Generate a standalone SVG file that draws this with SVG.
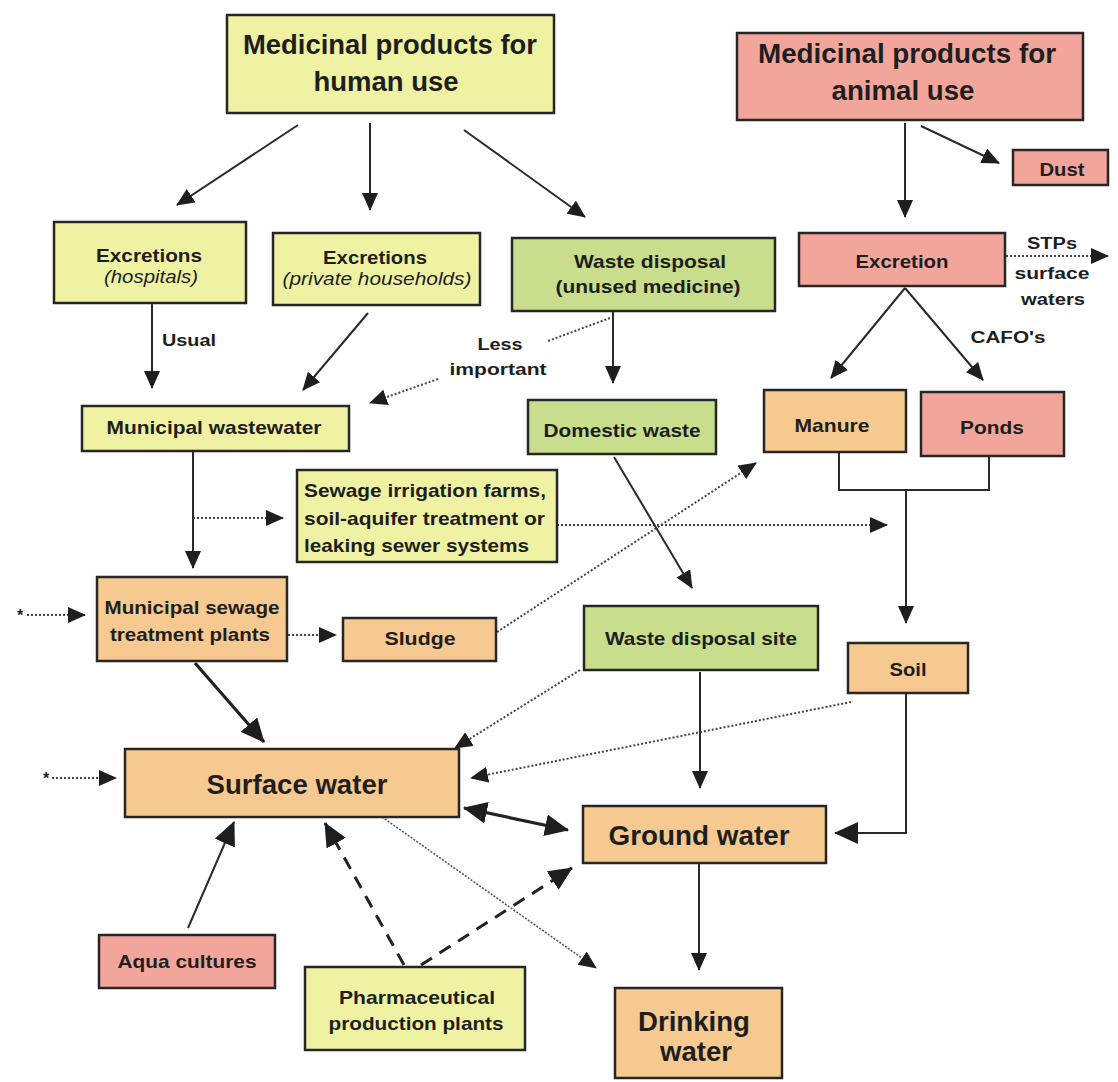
<svg xmlns="http://www.w3.org/2000/svg" width="1118" height="1082" viewBox="0 0 1118 1082">
<style>
text{font-family:"Liberation Sans",Arial,sans-serif;font-weight:bold;fill:#1e1e1e;text-anchor:middle}
.it{font-style:italic;font-weight:normal}
.big{font-size:27px}
.md{font-size:19px}
.sm{font-size:16px}
.nd rect{stroke:#262626;stroke-width:2.5}
.y{fill:#eef2a2}
.g{fill:#c8de8d}
.p{fill:#f2a59b}
.o{fill:#f5c98f}
.ln{fill:none;stroke:#2a2a2a;stroke-width:2}
.th{fill:none;stroke:#222;stroke-width:3.2}
.dt{fill:none;stroke:#444;stroke-width:2;stroke-dasharray:2 2}
.dt2{fill:none;stroke:#555;stroke-width:1.6;stroke-dasharray:2 1.5}
.ds{fill:none;stroke:#222;stroke-width:3;stroke-dasharray:13 9}
</style>
<defs>
<marker id="a" viewBox="0 0 18 16" refX="17" refY="8" markerWidth="18" markerHeight="16" orient="auto" markerUnits="userSpaceOnUse"><path d="M0,0 L18,8 L0,16 z" fill="#1e1e1e"/></marker>
<marker id="b" viewBox="0 0 24 22" refX="23" refY="11" markerWidth="24" markerHeight="22" orient="auto-start-reverse" markerUnits="userSpaceOnUse"><path d="M0,0 L24,11 L0,22 z" fill="#1e1e1e"/></marker>
</defs>
<rect x="0" y="0" width="1118" height="1082" fill="#fff"/>

<g id="connectors">
<path class="ln" d="M298,125 L177,205" marker-end="url(#a)"/>
<path class="ln" d="M370,123 L370,210" marker-end="url(#a)"/>
<path class="ln" d="M464,130 L585,217" marker-end="url(#a)"/>
<path class="ln" d="M905,123 L905,217" marker-end="url(#a)"/>
<path class="ln" d="M921,126 L999,163" marker-end="url(#a)"/>
<path class="dt" d="M1006,256 L1108,256" marker-end="url(#a)"/>
<path class="ln" d="M905,288 L831,378" marker-end="url(#a)"/>
<path class="ln" d="M905,288 L983,380" marker-end="url(#a)"/>
<path class="ln" d="M152,303 L152,388" marker-end="url(#a)"/>
<path class="ln" d="M368,313 L303,390" marker-end="url(#a)"/>
<path class="dt" d="M610,318 L548,341"/>
<path class="dt" d="M438,379 L370,403" marker-end="url(#a)"/>
<path class="ln" d="M613,312 L613,383" marker-end="url(#a)"/>
<path class="ln" d="M193,452 L193,568" marker-end="url(#a)"/>
<path class="dt" d="M193,518 L283,518" marker-end="url(#a)"/>
<path class="dt" d="M557,525 L887,525" marker-end="url(#a)"/>
<path class="ln" d="M839,452 V490 H989 V456"/>
<path class="ln" d="M906,490 V623" marker-end="url(#a)"/>
<path class="ln" d="M614,457 L692,588" marker-end="url(#a)"/>
<path class="dt" d="M497,632 L756,463" marker-end="url(#a)"/>
<path class="dt" d="M27,615 L85,615" marker-end="url(#a)"/>
<path class="dt" d="M288,635 L336,635" marker-end="url(#a)"/>
<path class="th" d="M195,663 L264,742" marker-end="url(#b)"/>
<path class="dt" d="M580,670 L455,748" marker-end="url(#a)"/>
<path class="ln" d="M700,672 L700,788" marker-end="url(#a)"/>
<path class="dt" d="M851,702 L471,778" marker-end="url(#a)"/>
<path class="ln" d="M906,693 V833 H835" marker-end="url(#b)"/>
<path class="dt" d="M52,778 L116,778" marker-end="url(#a)"/>
<path class="th" d="M464,808 L568,830" marker-start="url(#b)" marker-end="url(#b)"/>
<path class="dt2" d="M382,817 L596,968" marker-end="url(#a)"/>
<path class="ln" d="M188,928 L234,822" marker-end="url(#b)"/>
<path class="ds" d="M404,965 L325,823" marker-end="url(#b)"/>
<path class="ds" d="M421,965 L572,868" marker-end="url(#b)"/>
<path class="ln" d="M699,863 L699,970" marker-end="url(#a)"/>
<text class="sm" x="20" y="621">*</text>
<text class="sm" x="46" y="784">*</text>
<text class="sm" x="189" y="346" textLength="54" lengthAdjust="spacingAndGlyphs">Usual</text>
<text class="sm" x="500" y="350" textLength="45" lengthAdjust="spacingAndGlyphs">Less</text>
<text class="sm" x="498" y="375" textLength="97" lengthAdjust="spacingAndGlyphs">important</text>
<text class="sm" x="1052" y="249" textLength="50" lengthAdjust="spacingAndGlyphs">STPs</text>
<text class="sm" x="1052" y="279" textLength="75" lengthAdjust="spacingAndGlyphs">surface</text>
<text class="sm" x="1053" y="305" textLength="64" lengthAdjust="spacingAndGlyphs">waters</text>
<text class="sm" x="1008" y="343" textLength="75" lengthAdjust="spacingAndGlyphs">CAFO's</text>
</g>

<g id="human" class="nd"><rect class="y" x="227" y="15" width="327" height="98"/>
<text class="big" x="390" y="54" textLength="294" lengthAdjust="spacingAndGlyphs">Medicinal products for</text>
<text class="big" x="386" y="91" textLength="145" lengthAdjust="spacingAndGlyphs">human use</text></g>

<g id="animal" class="nd"><rect class="p" x="737" y="33" width="346" height="87"/>
<text class="big" x="907" y="63" textLength="298" lengthAdjust="spacingAndGlyphs">Medicinal products for</text>
<text class="big" x="903" y="100" textLength="143" lengthAdjust="spacingAndGlyphs">animal use</text></g>

<g id="dust" class="nd"><rect class="p" x="1013" y="150" width="95" height="35"/>
<text class="md" x="1062" y="176" textLength="45" lengthAdjust="spacingAndGlyphs">Dust</text></g>

<g id="excr-hosp" class="nd"><rect class="y" x="54" y="222" width="192" height="81"/>
<text class="md" x="149" y="262" textLength="106" lengthAdjust="spacingAndGlyphs">Excretions</text>
<text class="md it" x="151" y="283" textLength="94" lengthAdjust="spacingAndGlyphs">(hospitals)</text></g>

<g id="excr-priv" class="nd"><rect class="y" x="273" y="233" width="207" height="72"/>
<text class="md" x="375" y="264" textLength="104" lengthAdjust="spacingAndGlyphs">Excretions</text>
<text class="md it" x="377" y="285" textLength="189" lengthAdjust="spacingAndGlyphs">(private households)</text></g>

<g id="waste-disposal" class="nd"><rect class="g" x="512" y="238" width="263" height="73"/>
<text class="md" x="650" y="268" textLength="152" lengthAdjust="spacingAndGlyphs">Waste disposal</text>
<text class="md" x="648" y="293" textLength="185" lengthAdjust="spacingAndGlyphs">(unused medicine)</text></g>

<g id="excretion" class="nd"><rect class="p" x="799" y="233" width="206" height="53"/>
<text class="md" x="902" y="268" textLength="93" lengthAdjust="spacingAndGlyphs">Excretion</text></g>

<g id="municipal-ww" class="nd"><rect class="y" x="82" y="406" width="267" height="45"/>
<text class="md" x="214" y="434" textLength="215" lengthAdjust="spacingAndGlyphs">Municipal wastewater</text></g>

<g id="domestic" class="nd"><rect class="g" x="528" y="400" width="188" height="54"/>
<text class="md" x="622" y="437" textLength="157" lengthAdjust="spacingAndGlyphs">Domestic waste</text></g>

<g id="manure" class="nd"><rect class="o" x="764" y="390" width="142" height="62"/>
<text class="md" x="832" y="432" textLength="75" lengthAdjust="spacingAndGlyphs">Manure</text></g>

<g id="ponds" class="nd"><rect class="p" x="921" y="392" width="143" height="64"/>
<text class="md" x="992" y="434" textLength="64" lengthAdjust="spacingAndGlyphs">Ponds</text></g>

<g id="sewage-irrigation" class="nd"><rect class="y" x="297" y="470" width="260" height="92"/>
<text class="md" x="304" y="497" style="text-anchor:start" textLength="242" lengthAdjust="spacingAndGlyphs">Sewage irrigation farms,</text>
<text class="md" x="304" y="525" style="text-anchor:start" textLength="241" lengthAdjust="spacingAndGlyphs">soil-aquifer treatment or</text>
<text class="md" x="304" y="552" style="text-anchor:start" textLength="225" lengthAdjust="spacingAndGlyphs">leaking sewer systems</text></g>

<g id="mstp" class="nd"><rect class="o" x="97" y="577" width="190" height="84"/>
<text class="md" x="192" y="614" textLength="175" lengthAdjust="spacingAndGlyphs">Municipal sewage</text>
<text class="md" x="190" y="641" textLength="160" lengthAdjust="spacingAndGlyphs">treatment plants</text></g>

<g id="sludge" class="nd"><rect class="o" x="343" y="618" width="153" height="43"/>
<text class="md" x="420" y="645" textLength="71" lengthAdjust="spacingAndGlyphs">Sludge</text></g>

<g id="waste-site" class="nd"><rect class="g" x="584" y="606" width="234" height="64"/>
<text class="md" x="701" y="645" textLength="192" lengthAdjust="spacingAndGlyphs">Waste disposal site</text></g>

<g id="soil" class="nd"><rect class="o" x="848" y="643" width="120" height="50"/>
<text class="md" x="908" y="676" textLength="37" lengthAdjust="spacingAndGlyphs">Soil</text></g>

<g id="surface" class="nd"><rect class="o" x="125" y="749" width="334" height="68"/>
<text class="big" x="297" y="794" textLength="181" lengthAdjust="spacingAndGlyphs">Surface water</text></g>

<g id="ground" class="nd"><rect class="o" x="583" y="806" width="243" height="57"/>
<text class="big" x="699" y="845" textLength="181" lengthAdjust="spacingAndGlyphs">Ground water</text></g>

<g id="aqua" class="nd"><rect class="p" x="99" y="935" width="176" height="53"/>
<text class="md" x="187" y="968" textLength="139" lengthAdjust="spacingAndGlyphs">Aqua cultures</text></g>

<g id="pharma" class="nd"><rect class="y" x="305" y="967" width="220" height="83"/>
<text class="md" x="417" y="1004" textLength="156" lengthAdjust="spacingAndGlyphs">Pharmaceutical</text>
<text class="md" x="416" y="1030" textLength="175" lengthAdjust="spacingAndGlyphs">production plants</text></g>

<g id="drinking" class="nd"><rect class="o" x="615" y="988" width="167" height="90"/>
<text class="big" x="694" y="1031" textLength="112" lengthAdjust="spacingAndGlyphs">Drinking</text>
<text class="big" x="696" y="1061" textLength="72" lengthAdjust="spacingAndGlyphs">water</text></g>
</svg>
